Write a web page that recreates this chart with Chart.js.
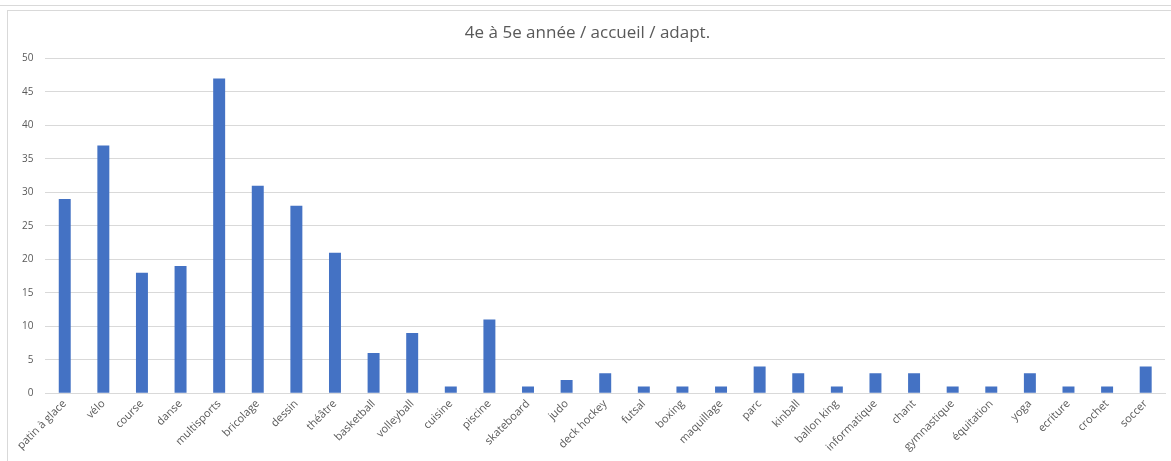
<!DOCTYPE html>
<html>
<head>
<meta charset="utf-8">
<script src="https://cdn.jsdelivr.net/npm/chart.js@4/dist/chart.umd.min.js"></script>
<style>
  html, body { margin: 0; padding: 0; background: #fff; }
  #wrap { position: absolute; left: 0; top: 0; width: 1171px; height: 461px; }
  #frame { position: absolute; left: 7px; top: 10px; width: 1170px; height: 460px; border-left: 1px solid #d9d9d9; border-top: 1px solid #d9d9d9; }
  #sheet { position: absolute; left: 0; top: 5px; width: 1171px; height: 0; border-top: 1px solid #d9d9d9; }
</style>
</head>
<body>
<div id="wrap">
  <div id="sheet"></div>
  <div id="frame"></div>
  <canvas id="activityChart" width="1171" height="461"></canvas>
</div>
<script>
var activities = ["patin à glace", "vélo", "course", "danse", "multisports", "bricolage", "dessin", "théâtre",
    "basketball", "volleyball", "cuisine", "piscine", "skateboard", "judo", "deck hockey", "futsal",
    "boxing", "maquillage", "parc", "kinball", "ballon king", "informatique", "chant", "gymnastique",
    "équitation", "yoga", "ecriture", "crochet", "soccer"];
var counts = [29, 37, 18, 19, 47, 31, 28, 21, 6, 9, 1, 11, 1, 2, 3, 1, 1, 1, 4, 3, 1, 3, 3, 1, 1, 3, 1, 1, 4];
var chartTitle = "4e à 5e année / accueil / adapt.";

let ctx = document.getElementById("activityChart").getContext("2d");
let activityChart = new Chart(ctx, {
    type: "bar",
    data: {
        labels: activities,
        datasets: [{
            data: counts,
            backgroundColor: 'rgb(68,114,196)',
            barPercentage: 0.31,
            categoryPercentage: 1.0
        }]
    },
    options: {
        responsive: false,
        animation: false,
        layout: {
            padding: { left: 10, right: 6, top: 4, bottom: 3 }
        },
        plugins: {
            legend: { display: false },
            tooltip: { enabled: false },
            title: {
                display: true,
                text: chartTitle,
                color: '#595959',
                font: { family: "'Open Sans', sans-serif", size: 17, weight: 'normal' },
                padding: { top: 19, bottom: 15 }
            }
        },
        scales: {
            x: {
                grid: { display: false, drawTicks: false },
                border: { color: '#d9d9d9' },
                ticks: {
                    color: '#595959',
                    font: { family: "'Open Sans', sans-serif", size: 11 },
                    minRotation: 45,
                    maxRotation: 45,
                    autoSkip: false,
                    padding: 4
                }
            },
            y: {
                min: 0,
                max: 50,
                grid: { color: '#d9d9d9', drawTicks: false },
                border: { display: false },
                ticks: {
                    stepSize: 5,
                    color: '#595959',
                    font: { family: "'Open Sans', sans-serif", size: 10 },
                    padding: 12
                }
            }
        }
    }
});
</script>
</body>
</html>
